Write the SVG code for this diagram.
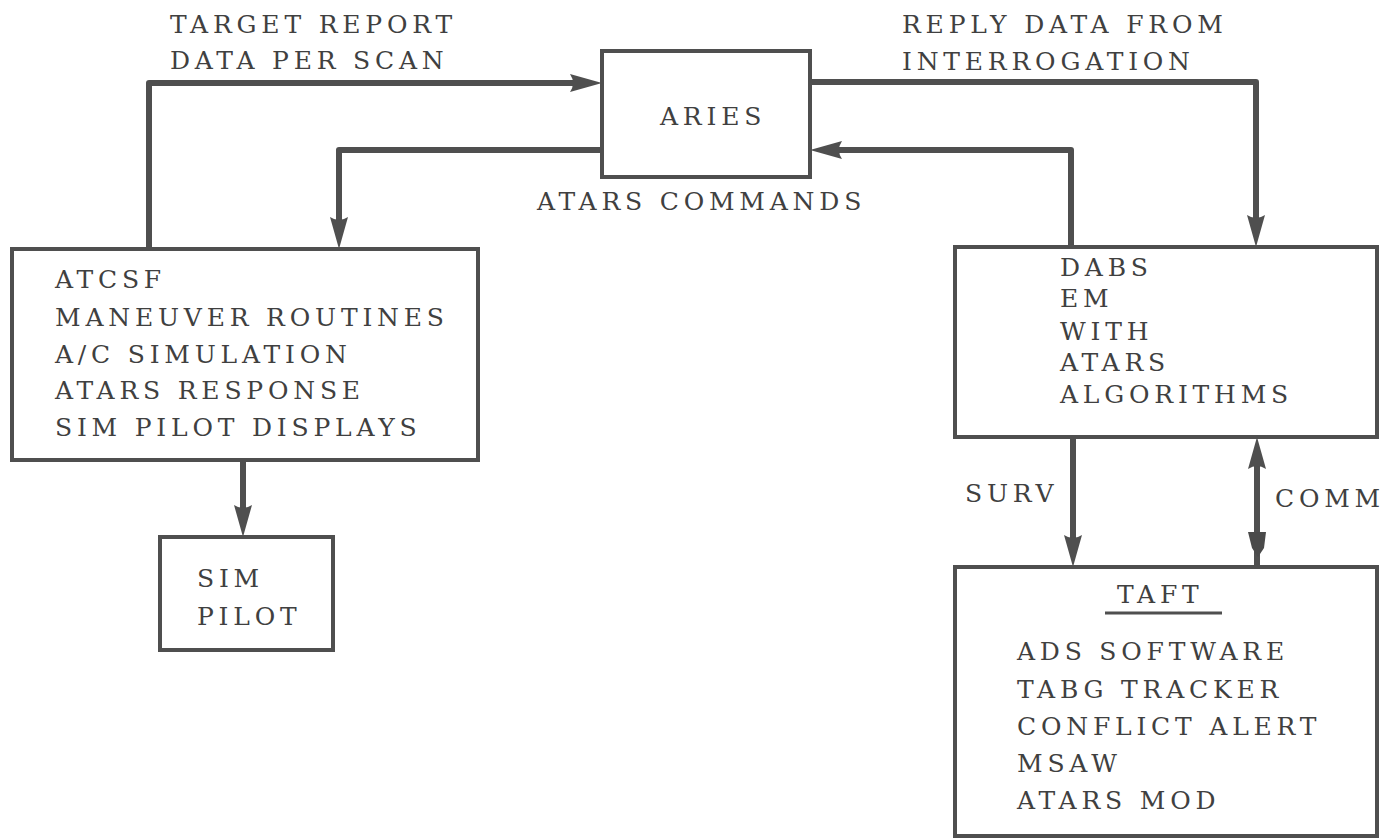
<svg xmlns="http://www.w3.org/2000/svg" width="1386" height="838" viewBox="0 0 1386 838">
<style>
.box{fill:#ffffff;stroke:#4f4f4f;stroke-width:4}
.conn{fill:none;stroke:#4f4f4f;stroke-width:6;stroke-linejoin:round}
.t{font-family:"DejaVu Serif","Liberation Serif",serif;font-size:25px;fill:#404040;letter-spacing:4.8px}
</style>
<defs>
<marker id="ah" markerUnits="userSpaceOnUse" markerWidth="34" markerHeight="22" refX="14" refY="10" orient="auto-start-reverse" viewBox="0 0 34 22">
<path d="M0,1 Q6,10 0,19 L32,10 Z" fill="#4f4f4f"/>
</marker>
</defs>
<rect width="1386" height="838" fill="#ffffff"/>
<g id="connectors">
<path class="conn" d="M149,249 V83 H584" marker-end="url(#ah)"/>
<path class="conn" d="M602,150 H339 V231" marker-end="url(#ah)"/>
<path class="conn" d="M810,82 H1256 V229" marker-end="url(#ah)"/>
<path class="conn" d="M1071,247 V150 H828" marker-end="url(#ah)"/>
<path class="conn" d="M243,460 V519" marker-end="url(#ah)"/>
<path class="conn" d="M1073,437 V549" marker-end="url(#ah)"/>
<path class="conn" d="M1257,567 V455" marker-end="url(#ah)"/>
<path d="M1248,532 L1266,532 L1264,548 L1258,557 L1252,548 Z" fill="#4a4a4a"/>
<text class="t" x="170" y="33">TARGET REPORT</text>
<text class="t" x="170" y="69">DATA PER SCAN</text>
<text class="t" x="537" y="210">ATARS COMMANDS</text>
<text class="t" x="902" y="33">REPLY DATA FROM</text>
<text class="t" x="902" y="70">INTERROGATION</text>
<text class="t" x="965" y="502">SURV</text>
<text class="t" x="1275" y="507">COMM</text>
</g>
<g id="aries">
<rect class="box" x="602" y="51" width="208" height="126"/>
<text class="t" x="660" y="125">ARIES</text>
</g>
<g id="atcsf">
<rect class="box" x="12" y="249" width="466" height="211"/>
<text class="t" x="55" y="288">ATCSF</text>
<text class="t" x="55" y="326">MANEUVER ROUTINES</text>
<text class="t" x="55" y="363">A/C SIMULATION</text>
<text class="t" x="55" y="399">ATARS RESPONSE</text>
<text class="t" x="55" y="436">SIM PILOT DISPLAYS</text>
</g>
<g id="simpilot">
<rect class="box" x="160" y="537" width="173" height="113"/>
<text class="t" x="197" y="587">SIM</text>
<text class="t" x="197" y="625">PILOT</text>
</g>
<g id="dabs">
<rect class="box" x="955" y="247" width="422" height="190"/>
<text class="t" x="1060" y="276">DABS</text>
<text class="t" x="1060" y="307">EM</text>
<text class="t" x="1060" y="340">WITH</text>
<text class="t" x="1060" y="371">ATARS</text>
<text class="t" x="1060" y="403">ALGORITHMS</text>
</g>
<g id="taft">
<rect class="box" x="955" y="567" width="422" height="269"/>
<text class="t" x="1117" y="603">TAFT</text>
<line x1="1105" y1="613" x2="1222" y2="613" stroke="#4f4f4f" stroke-width="3"/>
<text class="t" x="1017" y="660">ADS SOFTWARE</text>
<text class="t" x="1017" y="698">TABG TRACKER</text>
<text class="t" x="1017" y="735">CONFLICT ALERT</text>
<text class="t" x="1017" y="772">MSAW</text>
<text class="t" x="1017" y="809">ATARS MOD</text>
</g>
</svg>
